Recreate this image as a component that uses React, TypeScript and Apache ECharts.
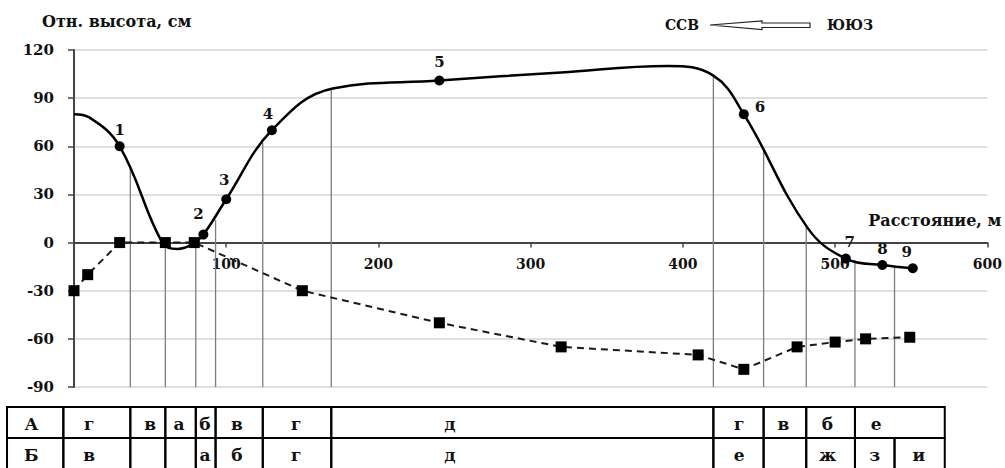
import React, { useEffect, useRef } from "react";
import * as echarts from "echarts";

// Relief profile (solid line): distance, relative height, point number
const profileX = [0, 10, 30, 58, 68, 78, 85, 100, 130, 170, 240, 320, 390, 420, 440, 482, 507, 531, 551];
const profileY = [80, 78, 60, 0, -4, -1, 5, 27, 70, 96, 101, 106, 110, 104, 80, 9, -10, -14, -16];
const profileLabels = ["", "", "1", "", "", "", "2", "3", "4", "", "5", "", "", "", "6", "", "7", "8", "9"];

// Lower profile (dashed line with squares)
const baseX = [0, 9, 30, 60, 79, 150, 240, 320, 410, 440, 475, 500, 520, 549];
const baseY = [-30, -20, 0, 0, 0, -30, -50, -65, -70, -79, -65, -62, -60, -59];

// Zone boundaries: distance and the height where each boundary line starts
const boundaryX = [37, 60, 80, 93, 124, 169, 420, 453, 481, 513, 539];
const boundaryTop = [47, 0, 1, 14, 62, 96, 104, 58, 10, -11, -15];

// Axis ranges
const xMin = 0, xMax = 600, xStep = 100;
const yMin = -90, yMax = 120, yStep = 30;

// Zone table: cell edges (distance units) and cell letters
const rowEdgesA = [-44, -7, 37, 60, 80, 93, 124, 169, 420, 453, 481, 513, 572];
const rowEdgesB = [-44, -7, 37, 60, 80, 93, 124, 169, 420, 453, 481, 513, 539, 572];
const rowTextA = ["А", "г", "в", "а", "б", "в", "г", "д", "г", "в", "б", "е"];
const rowTextAX = [-28, 10, 50, 69, 86, 107, 146, 247, 437, 466, 495, 527];
const rowTextB = ["Б", "в", "а", "б", "г", "д", "е", "ж", "з", "и"];
const rowTextBX = [-28, 10, 86, 107, 146, 247, 437, 495, 526, 555];

const FONT = "DejaVu Serif";
const INK = "#111";

// label placement for numbered points
const labelPlace: Record<string, { position: string; offset: number[] }> = {
  "1": { position: "top", offset: [0, 0] },
  "2": { position: "top", offset: [-5, -4] },
  "3": { position: "top", offset: [-2, -3] },
  "4": { position: "top", offset: [-4, 0] },
  "5": { position: "top", offset: [0, -2] },
  "6": { position: "right", offset: [2, -7] },
  "7": { position: "top", offset: [4, 0] },
  "8": { position: "top", offset: [0, 0] },
  "9": { position: "top", offset: [-6, 0] },
};

const GRID = { left: 74, right: 16, top: 50, bottom: 81 };
const CHART_H = 468;
const TABLE_GAP = 20;
const ROW_H = 31;

export default function App() {
  const ref = useRef<HTMLDivElement>(null);

  useEffect(() => {
    document.body.style.margin = "0";
    document.body.style.overflow = "hidden";
    const el = ref.current;
    if (!el) return;
    const chart = echarts.init(el, null, { renderer: "svg" });

    // distance from the plot bottom up to the zero line, so the x axis sits on y = 0
    const plotH = CHART_H - GRID.top - GRID.bottom;
    const zeroLift = (plotH * (0 - yMin)) / (yMax - yMin);

    const profileData = profileX.map((x, i) => {
      const lab = profileLabels[i];
      const item: any = { value: [x, profileY[i]], name: lab };
      if (lab) {
        const p = labelPlace[lab];
        item.symbol = "circle";
        item.label = {
          show: true,
          formatter: lab,
          position: p.position,
          offset: p.offset,
          distance: 4,
        };
      } else {
        item.symbol = "none";
      }
      return item;
    });

    const cellData: number[][] = [];
    rowEdgesA.slice(0, -1).forEach((e, i) => cellData.push([e, 0, rowEdgesA[i + 1]]));
    rowEdgesB.slice(0, -1).forEach((e, i) => cellData.push([e, 1, rowEdgesB[i + 1]]));

    const textData: number[][] = [];
    const textStr: string[] = [];
    rowTextA.forEach((t, i) => { textData.push([rowTextAX[i], 0]); textStr.push(t); });
    rowTextB.forEach((t, i) => { textData.push([rowTextBX[i], 1]); textStr.push(t); });

    const option: any = {
      animation: false,
      backgroundColor: "#fff",
      grid: { ...GRID, containLabel: false },
      xAxis: {
        type: "value",
        min: xMin,
        max: xMax,
        interval: xStep,
        position: "bottom",
        offset: -zeroLift,
        name: "Расстояние, м",
        nameLocation: "end",
        nameGap: 14,
        nameTextStyle: {
          fontFamily: FONT,
          fontWeight: "bold",
          fontSize: 16,
          color: INK,
          align: "right",
          verticalAlign: "bottom",
          padding: [0, 0, 14, 0],
        },
        axisLine: { onZero: false, lineStyle: { color: "#444", width: 2 } },
        axisTick: { show: true, length: 5, lineStyle: { color: "#444", width: 1.5 } },
        axisLabel: {
          showMinLabel: false,
          fontFamily: FONT,
          fontWeight: "bold",
          fontSize: 14,
          color: INK,
          margin: 14,
        },
        splitLine: { show: false },
      },
      yAxis: {
        type: "value",
        min: yMin,
        max: yMax,
        interval: yStep,
        axisLine: { show: true, onZero: false, lineStyle: { color: "#444", width: 2 } },
        axisTick: { show: true, length: 6, lineStyle: { color: "#444", width: 1.5 } },
        axisLabel: {
          fontFamily: FONT,
          fontWeight: "bold",
          fontSize: 15,
          color: INK,
          margin: 20,
        },
        splitLine: { show: true, lineStyle: { color: "#d4d4d4", width: 1.5 } },
      },
      graphic: [
        {
          type: "text",
          left: 42,
          top: 13,
          style: {
            text: "Отн. высота, см",
            font: `bold 16px "${FONT}"`,
            fill: INK,
          },
        },
        {
          type: "text",
          x: 682,
          y: 25,
          style: {
            text: "ССВ",
            font: `bold 14px "${FONT}"`,
            fill: INK,
            align: "center",
            verticalAlign: "middle",
          },
        },
        {
          type: "polygon",
          shape: {
            points: [
              [710, 25],
              [762, 21],
              [762, 23],
              [810, 23],
              [810, 27.5],
              [762, 27.5],
              [762, 29.5],
            ],
          },
          style: { fill: "#fff", stroke: "#222", lineWidth: 1.2 },
        },
        {
          type: "text",
          x: 850,
          y: 25,
          style: {
            text: "ЮЮЗ",
            font: `bold 14px "${FONT}"`,
            fill: INK,
            align: "center",
            verticalAlign: "middle",
          },
        },
      ],
      series: [
        {
          // zone boundary lines, from the profile down to the bottom of the plot
          type: "custom",
          z: 1,
          clip: false,
          data: boundaryX.map((x, i) => [x, boundaryTop[i]]),
          encode: { x: 0, y: 1 },
          renderItem: (params: any, api: any) => {
            const p0 = api.coord([api.value(0), api.value(1)]);
            const p1 = api.coord([api.value(0), yMin]);
            return {
              type: "line",
              shape: { x1: p0[0], y1: p0[1], x2: p1[0], y2: p1[1] },
              style: { stroke: "#7d7d7d", lineWidth: 1.3 },
            };
          },
        },
        {
          type: "line",
          z: 3,
          data: baseX.map((x, i) => [x, baseY[i]]),
          symbol: "rect",
          symbolSize: 11,
          itemStyle: { color: "#000" },
          lineStyle: { color: "#1a1a1a", width: 2, type: [7, 5] },
        },
        {
          type: "line",
          z: 4,
          data: profileData,
          smooth: 0.4,
          symbolSize: 10,
          showAllSymbol: true,
          itemStyle: { color: "#000" },
          lineStyle: { color: "#000", width: 2.5 },
          label: {
            fontFamily: FONT,
            fontWeight: "bold",
            fontSize: 15,
            color: INK,
          },
        },
        {
          // table cells
          type: "custom",
          z: 2,
          clip: false,
          data: cellData,
          encode: { x: 0, y: 1 },
          renderItem: (params: any, api: any) => {
            const cs = params.coordSys;
            const top = cs.y + cs.height + TABLE_GAP + api.value(1) * ROW_H;
            const x0 = api.coord([api.value(0), 0])[0];
            const x1 = api.coord([api.value(2), 0])[0];
            return {
              type: "rect",
              shape: { x: x0, y: top, width: x1 - x0, height: ROW_H },
              style: { fill: "none", stroke: "#000", lineWidth: 2 },
            };
          },
        },
        {
          // table letters
          type: "custom",
          z: 2,
          clip: false,
          data: textData,
          encode: { x: 0, y: 1 },
          renderItem: (params: any, api: any) => {
            const cs = params.coordSys;
            const top = cs.y + cs.height + TABLE_GAP + api.value(1) * ROW_H;
            const x = api.coord([api.value(0), 0])[0];
            return {
              type: "text",
              style: {
                text: textStr[params.dataIndex],
                x,
                y: top + ROW_H / 2 + 1,
                align: "center",
                verticalAlign: "middle",
                font: `bold 17px "${FONT}"`,
                fill: INK,
              },
            };
          },
        },
      ],
    };

    chart.setOption(option);
    return () => chart.dispose();
  }, []);

  return <div ref={ref} style={{ width: 1005, height: 468 }} />;
}
